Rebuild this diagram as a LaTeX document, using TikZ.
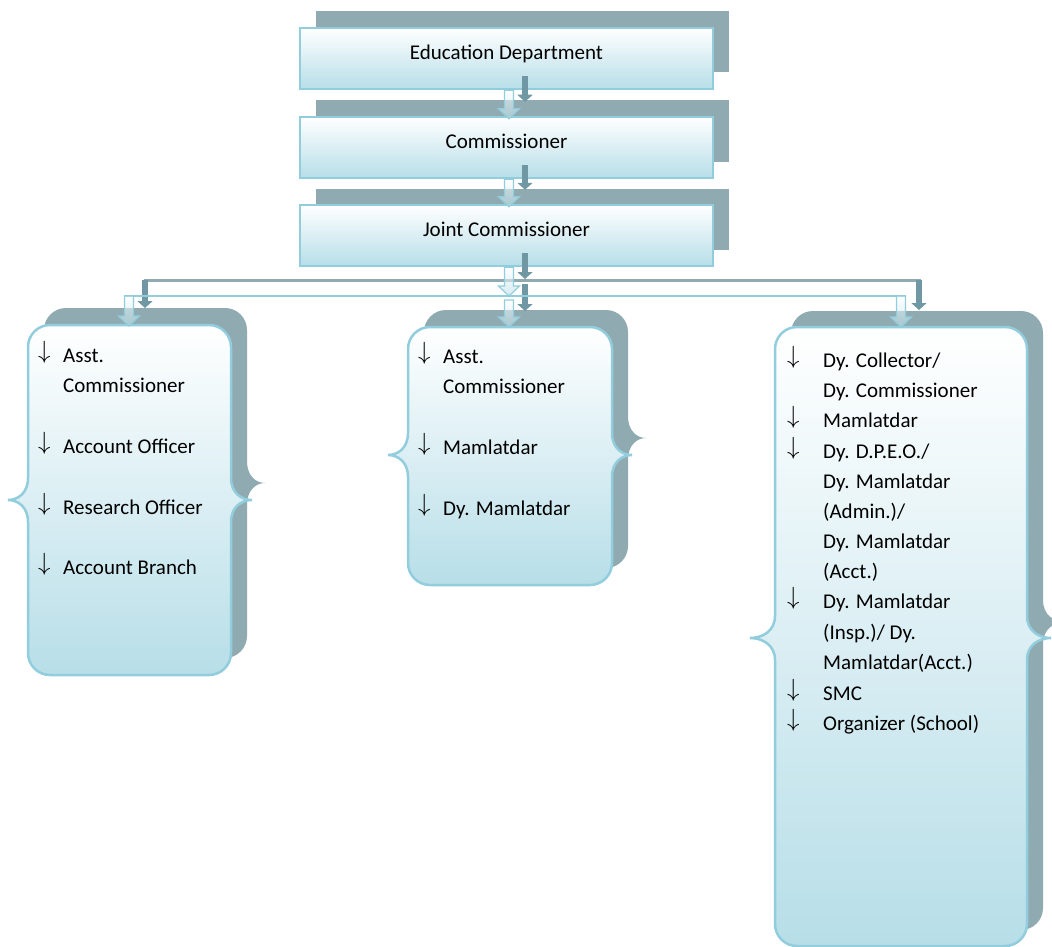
\documentclass[tikz,border=0pt]{standalone}
\usepackage{fontspec}
\setmainfont{Carlito}
\usetikzlibrary{arrows.meta,calc,shadows}

\definecolor{shadowgray}{RGB}{143,170,177}
\definecolor{edgeblue}{RGB}{146,205,221}
\definecolor{boxblue}{RGB}{183,222,232}
\definecolor{arrowdark}{RGB}{112,152,164}

\tikzset{
  mainbox/.style={draw=edgeblue, line width=2.5pt, top color=white, bottom color=boxblue,
    minimum width=413pt, minimum height=61pt, inner sep=0pt,
    text height=15pt, text depth=13pt, font=\fontsize{21}{30}\selectfont,
    drop shadow={shadow xshift=16pt, shadow yshift=16.5pt, fill=shadowgray, opacity=1}},
  panelshadow/.style={fill=shadowgray},
  panelmain/.style={draw=edgeblue, line width=2.5pt, top color=white, bottom color=boxblue},
  item/.style={anchor=base west, inner sep=0pt, font=\fontsize{21}{30}\selectfont},
  itemarrow/.style={anchor=base west, inner sep=0pt, font=\fontsize{23}{30}\selectfont, yshift=4pt},
  darkarrow/.style={draw=arrowdark, line width=6.5pt, -{Triangle[width=15pt,length=7pt]}},
  darkline/.style={draw=shadowgray, line width=3pt},
  hollowarrow/.style={draw=edgeblue, line width=1.2pt, top color=white, bottom color=boxblue, fill opacity=0.6},
  busline/.style={draw=edgeblue, line width=2pt}
}

% panel outline: x1, y1, x2, y2, brace height, left tip, right tip
\newcommand{\panelpath}[7]{(#1+22,#2) -- (#3-22,#2) arc[start angle=-90,end angle=0,radius=22]
  -- (#3,#5-22) .. controls (#3,#5-7) and (#3+#7*0.5,#5) .. (#3+#7,#5)
  .. controls (#3+#7*0.5,#5) and (#3,#5+7) .. (#3,#5+22)
  -- (#3,#4-22) arc[start angle=0,end angle=90,radius=22]
  -- (#1+22,#4) arc[start angle=90,end angle=180,radius=22]
  -- (#1,#5+22) .. controls (#1,#5+7) and (#1-#6*0.5,#5) .. (#1-#6,#5)
  .. controls (#1-#6*0.5,#5) and (#1,#5-7) .. (#1,#5-22)
  -- (#1,#2+22) arc[start angle=180,end angle=270,radius=22] -- cycle}

% light block arrow pointing down
\newcommand{\hollowdown}[2]{\path[hollowarrow] ($(#1)+(-4.5,0)$) -- ($(#2)+(-4.5,-10)$)
  -- ($(#2)+(-10.5,-10)$) -- (#2) -- ($(#2)+(10.5,-10)$) -- ($(#2)+(4.5,-10)$)
  -- ($(#1)+(4.5,0)$) -- cycle;}

\begin{document}
\begin{tikzpicture}[x=1pt,y=-1pt]
  \useasboundingbox (0,0) rectangle (1052,947);

  % top boxes
  \node[mainbox] (edu) at (506.5,58.5) {Education Department};
  \node[mainbox] (com) at (506.5,147.5) {Commissioner};
  \node[mainbox] (joint) at (506.5,235.5) {Joint Commissioner};

  % panel shadows
  \path[panelshadow] \panelpath{44}{308}{247}{658}{483}{0}{18};
  \path[panelshadow] \panelpath{424}{310}{628}{568}{438}{0}{18};
  \path[panelshadow] \panelpath{791}{311}{1043}{930}{622}{0}{22};

  % panels
  \path[panelmain] \panelpath{28}{325}{231}{675}{500}{20}{21};
  \path[panelmain] \panelpath{408}{327}{612}{585}{455}{20}{20};
  \path[panelmain] \panelpath{775}{327}{1027}{946}{638}{25}{24};

  % dark connectors (shadow copies)
  \coordinate (d1a) at ($(edu.south)+(18.5,-14)$);
  \coordinate (d1b) at ($(com.north)+(18.5,-14)$);
  \coordinate (d2a) at ($(com.south)+(18.5,-14)$);
  \coordinate (d2b) at ($(joint.north)+(18.5,-14)$);
  \coordinate (d3a) at ($(joint.south)+(18.5,-14)$);
  \coordinate (d3b) at (525,279);
  \coordinate (dbusL) at (145,280);
  \coordinate (dbusR) at (919,280);
  \coordinate (dL) at (145,308);
  \coordinate (dMa) at (525,284);
  \coordinate (dM) at (525,311);
  \coordinate (dR) at (919,310);
  \draw[darkarrow] (d1a) -- (d1b);
  \draw[darkarrow] (d2a) -- (d2b);
  \draw[darkarrow] (d3a) -- (d3b);
  \draw[darkline] ($(dbusL)+(-1.5,0)$) -- ($(dbusR)+(1.5,0)$);
  \draw[darkarrow] (dbusL) -- (dL);
  \draw[darkarrow] (dMa) -- (dM);
  \draw[darkarrow] (dbusR) -- (dR);

  % light connectors
  \coordinate (l1a) at ($(edu.south)+(2.5,0)$);
  \coordinate (l1b) at ($(com.north)+(2.5,3)$);
  \coordinate (l2a) at ($(com.south)+(2.5,0)$);
  \coordinate (l2b) at ($(joint.north)+(2.5,3)$);
  \coordinate (l3a) at ($(joint.south)+(2.5,0)$);
  \coordinate (busM) at (509,296);
  \coordinate (busL) at (129,296);
  \coordinate (busR) at (901,296);
  \coordinate (pL) at (129,326);
  \coordinate (pMa) at (509,300);
  \coordinate (pM) at (509,327);
  \coordinate (pR) at (901,327);
  \draw[busline] ($(busL)+(-5,0)$) -- ($(busR)+(5,0)$);
  \hollowdown{l1a}{l1b}
  \hollowdown{l2a}{l2b}
  \hollowdown{l3a}{busM}
  \hollowdown{busL}{pL}
  \hollowdown{pMa}{pM}
  \hollowdown{busR}{pR}

  % left panel
  \foreach \y/\t [count=\i] in {362/Asst., 392/Commissioner, 453/Account Officer,
      514/Research Officer, 574/Account Branch}
    \node[item] (l\i) at (63,\y) {\t};
  \foreach \y [count=\i] in {362,453,514,574}
    \node[itemarrow] (la\i) at (38,\y) {$\downarrow$};

  % middle panel
  \foreach \y/\t [count=\i] in {363/Asst., 393/Commissioner, 454/Mamlatdar, 515/Dy. Mamlatdar}
    \node[item] (m\i) at (443,\y) {\t};
  \foreach \y [count=\i] in {363,454,515}
    \node[itemarrow] (ma\i) at (418,\y) {$\downarrow$};

  % right panel
  \foreach \y/\t [count=\i] in {367/{Dy. Collector/}, 397/Dy. Commissioner, 427/Mamlatdar,
      458/{Dy. D.P.E.O./}, 488/Dy. Mamlatdar, 518/{(Admin.)/}, 548/Dy. Mamlatdar,
      578/(Acct.), 608/Dy. Mamlatdar, 639/{(Insp.)/ Dy.}, 669/Mamlatdar(Acct.),
      700/SMC, 730/Organizer (School)}
    \node[item] (r\i) at (823,\y) {\t};
  \foreach \y [count=\i] in {367,427,458,608,700,730}
    \node[itemarrow] (ra\i) at (787,\y) {$\downarrow$};
\end{tikzpicture}
\end{document}
